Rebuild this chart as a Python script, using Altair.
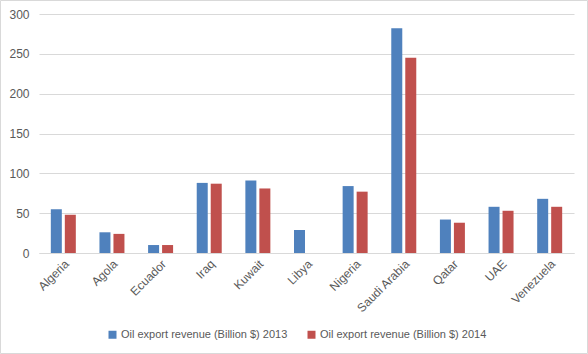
import altair as alt
import pandas as pd

countries = ["Algeria", "Agola", "Ecuador", "Iraq", "Kuwait", "Libya", "Nigeria",
             "Saudi Arabia", "Qatar", "UAE", "Venezuela"]
rev_2013 = [55, 26, 10, 88, 91, 29, 84, 282, 42, 58, 68]
rev_2014 = [48, 24, 10, 87, 81, 0, 77, 245, 38, 53, 58]
series = ["Oil export revenue (Billion $) 2013", "Oil export revenue (Billion $) 2014"]
colors = ["#4F81BD", "#C0504D"]

rows = []
for c, a, b in zip(countries, rev_2013, rev_2014):
    rows.append({"Country": c, "Series": series[0], "Value": a})
    rows.append({"Country": c, "Series": series[1], "Value": b})
df = pd.DataFrame(rows)

FONT = "Liberation Sans"
GRAY = "#595959"
GRID = "#D9D9D9"

bars = alt.Chart(df).mark_bar().encode(
    x=alt.X("Country:N", sort=countries, title=None,
            scale=alt.Scale(paddingInner=0.486, paddingOuter=0.243),
            axis=alt.Axis(labelAngle=-45, labelAlign="right", labelBaseline="top",
                          ticks=False, domain=True, domainColor=GRID, labelPadding=5,
                          labelColor=GRAY, labelFontSize=12, labelFont=FONT)),
    xOffset=alt.XOffset("Series:N", sort=series,
                        scale=alt.Scale(paddingInner=0.214, paddingOuter=0)),
    y=alt.Y("Value:Q", title=None,
            scale=alt.Scale(domain=[0, 300], nice=False),
            axis=alt.Axis(values=[0, 50, 100, 150, 200, 250, 300], ticks=False,
                          domain=False, gridColor=GRID, labelColor=GRAY,
                          labelFontSize=12, labelFont=FONT, labelPadding=10)),
    color=alt.Color("Series:N", sort=series,
                    scale=alt.Scale(domain=series, range=colors),
                    legend=alt.Legend(title=None, orient="none", direction="horizontal",
                                      legendX=68, legendY=315, symbolType="square",
                                      symbolSize=64, symbolStrokeWidth=0,
                                      labelColor=GRAY, labelFontSize=11, labelFont=FONT,
                                      labelLimit=0, columnPadding=18, labelOffset=3)),
)

border = alt.Chart(pd.DataFrame({"a": [0]})).mark_rect(
    fill=None, stroke=GRID, strokeWidth=1
).encode(
    x=alt.value(-38.5), x2=alt.value(548.5), y=alt.value(-13.5), y2=alt.value(339.5)
)

chart = alt.layer(bars, border).properties(
    width=535, height=239,
    autosize=alt.AutoSizeParams(type="none"),
    padding={"left": 39, "top": 14, "right": 14, "bottom": 101},
    background="white",
).configure_view(stroke=None)

chart.save("out.html", embed_options={"renderer": "svg", "actions": False})
